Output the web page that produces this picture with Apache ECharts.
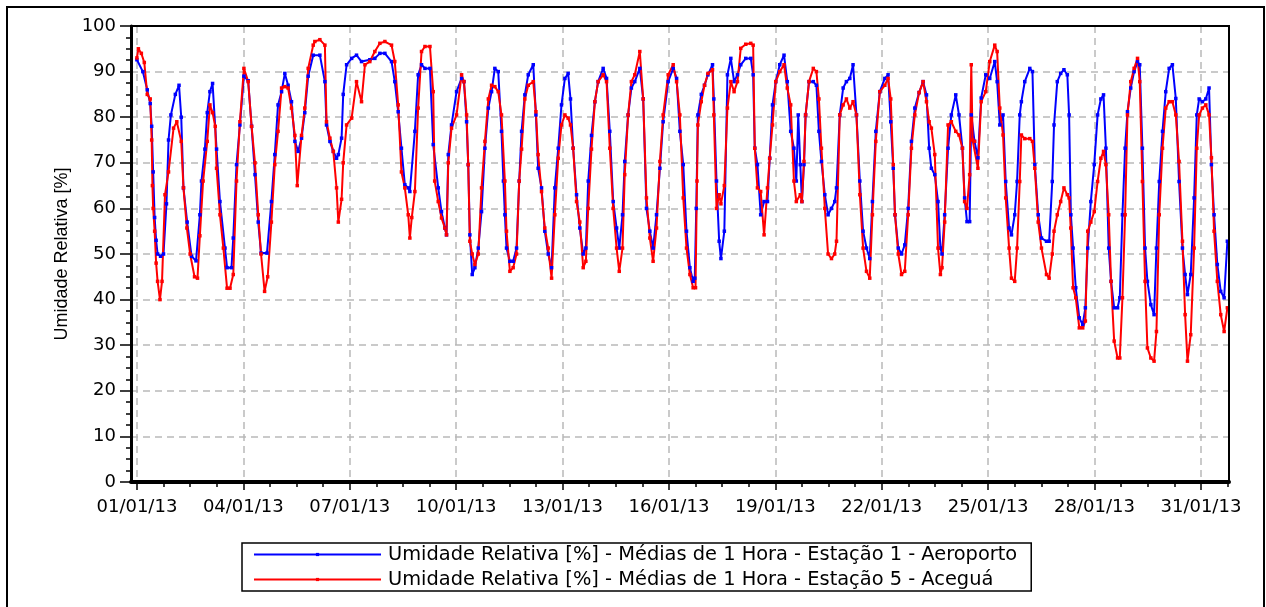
<!DOCTYPE html>
<html>
<head>
<meta charset="utf-8">
<script src="https://cdn.jsdelivr.net/npm/echarts@6/dist/echarts.min.js"></script>
<style>
html,body{margin:0;padding:0;background:#fff;overflow:hidden;width:1266px;height:607px;}
#frame{position:absolute;left:6px;top:6px;width:1255px;height:700px;border:2px solid #000;}
#chart{position:absolute;left:0;top:0;width:1266px;height:607px;}
</style>
</head>
<body>
<div id="frame"></div>
<div id="chart"></div>
<script>
// x values: hours since 01/01/13 00:00
const tickLabels = ['01/01/13','04/01/13','07/01/13','10/01/13','13/01/13','16/01/13','19/01/13','22/01/13','25/01/13','28/01/13','31/01/13'];
const seriesNames = [
  'Umidade Relativa [%] - Médias de 1 Hora - Estação 1 - Aeroporto',
  'Umidade Relativa [%] - Médias de 1 Hora - Estação 5 - Aceguá'
];
const station1 = [[0,92.6],[4,90],[7,86],[9,83],[10,78],[11,68],[12,58],[13,53],[14,50],[16,49.5],[18,50],[20,61],[21.4,75],[23,80.5],[26,85],[28.5,87],[30,80],[31.5,64.5],[34,57],[37,49.5],[40,48.5],[42.6,58.6],[43.7,66],[46,73],[47.6,81],[49.4,85.6],[51.2,87.4],[53.9,73],[56.2,61.5],[59.6,51.3],[61,47],[64,47],[65.2,53.5],[67.4,69.6],[69.7,78.3],[72.4,89],[75.3,88],[77.6,78],[79.9,67.4],[82.1,57],[84,50.2],[88,50.2],[91,61.5],[93.3,71.8],[95.5,82.7],[97.9,85.6],[100.1,89.6],[102.3,87],[104.6,83.4],[106.9,74.7],[109.1,72.5],[111.4,75.4],[113.6,81],[115.9,89],[119.3,93.6],[123.8,93.6],[127.2,87.8],[128.3,78.3],[130.6,74.7],[132.9,72.5],[135.1,71],[136.3,71.8],[138.5,75.4],[139.6,85],[141.9,91.5],[145.3,92.9],[148.6,93.6],[152,92.2],[157.6,92.6],[161,92.9],[164.4,94],[167.8,94],[172.3,92.2],[174.5,87.8],[176.8,81.2],[179,73.2],[181.3,65.2],[183.6,64.5],[184.7,63.7],[188.1,76.9],[190.3,89.3],[192.6,91.5],[194.9,90.7],[198.3,90.7],[200.5,74],[203.9,64.5],[206.1,59.3],[208.4,55.7],[209.5,54.2],[210.7,71.8],[212.9,78.3],[216.3,85.6],[219.7,88.5],[221.3,87.8],[223.1,79],[224.2,69.6],[225.3,54.2],[226.9,45.5],[228.7,47],[231,51.3],[233.2,59.3],[235.5,73.2],[237.8,82],[240,85.6],[242.2,90.7],[244.5,90],[246.7,76.9],[248,66],[249,58.6],[250.1,51.3],[252.4,48.4],[254.6,48.4],[256.9,51.3],[258.7,66],[260.3,76.9],[262.5,84.9],[264.8,89.3],[268.2,91.5],[270,80.5],[271.5,68.8],[273.8,64.5],[276,55],[278.3,50],[280.6,47],[282.8,64.5],[285.1,73.2],[287.3,82.7],[289.6,88.5],[291.8,89.6],[293.4,84],[295.2,73.2],[297.5,63],[299.7,55.7],[302,50],[303.8,51.3],[305.4,66],[307.6,76],[309.9,83.4],[312.1,87.8],[315.5,90.7],[317.8,88.5],[320,76.9],[322.3,61.5],[324.6,55.7],[326.4,51.3],[328.6,58.6],[330.1,70.3],[332.4,80.5],[334.6,86.4],[336.9,87.8],[340.3,90.7],[342.6,84],[344.8,60],[347.1,55],[349.3,51.3],[351.6,58.6],[353.9,68.8],[356.1,79],[359.5,87.8],[362.9,90.7],[365.2,88.5],[367.4,76.9],[369.7,69.6],[371.9,55],[374.2,47],[376.4,44],[377.5,44.7],[378.5,60],[379.6,80.5],[381.9,85],[384.1,87],[386.4,89.3],[389.5,91.5],[390.4,84],[392.2,66],[394,52.8],[395.2,49],[397.5,55],[399.6,89.3],[401.9,92.9],[404.1,87.8],[406.4,89.3],[408.6,91.5],[412,92.9],[415.4,92.9],[417,89.3],[418.1,73.2],[419.9,69.6],[422.1,58.6],[424.4,61.5],[426.7,61.5],[428.2,71],[430.1,82.7],[432.3,87.8],[435,91.5],[437.9,93.6],[440.1,87.8],[442.4,76.9],[444.6,73.2],[446.2,66],[447.5,80.5],[448.9,69.6],[450,61.5],[451.4,69.6],[452.5,80.5],[454.8,87.8],[457.7,87.8],[459.8,87],[461.5,76.9],[463.2,70.3],[465.5,63],[467.7,58.6],[470,60],[472.2,61.5],[473.4,64.5],[475.6,80.5],[477.9,86.4],[480.1,87.8],[482.4,88.5],[484.6,91.5],[486.9,80.5],[489.2,66],[491.4,55],[493.7,51.3],[495.9,49],[497.7,61.5],[500,76.9],[502.7,85.6],[506.1,88.5],[508.3,89.3],[510.1,79],[511.8,68.8],[513,58.6],[515.2,51.3],[517.4,50],[519.6,52],[521.9,60],[524.1,74.7],[526.4,82],[529.3,85.4],[532,87.8],[534.3,84.9],[536.1,73.2],[537.6,68.8],[539.9,67.4],[542.1,61.5],[543.7,51.3],[544.8,50],[546.6,58.6],[548.9,73.2],[551.1,80.5],[554.1,84.9],[556.3,80.5],[558.6,73.2],[560.1,62.3],[561.7,57.1],[563.5,57.1],[564.6,80.5],[566.8,74.7],[569.1,71.1],[571.3,84.2],[574.4,89.3],[577.1,88.5],[580.5,92.2],[582.1,87.8],[583.9,78.3],[586.1,80.5],[587.9,65.9],[590.2,55.7],[591.8,54.2],[594,58.6],[595.6,65.9],[597.4,80.5],[598.5,83.4],[600.8,87.8],[604.2,90.7],[606,90],[607.6,69.6],[609.9,58.6],[612.1,53.5],[615.5,52.8],[617.3,52.8],[619.4,65.9],[620.6,78.3],[622.8,87.8],[625.1,89.6],[627.3,90.4],[629.6,89.3],[630.8,80.5],[632,58.6],[633.5,51.3],[635.3,42.6],[637.7,36],[640,34.5],[641.8,38.2],[643.4,51.3],[645.5,61.5],[647.8,69.6],[650.1,80.5],[652.3,84],[654.1,84.9],[655.7,73.2],[657.6,51.3],[659.2,44],[661.3,38.2],[663.6,38.2],[665.1,40.4],[666.9,58.6],[668.7,73.2],[670.3,81.2],[672.5,86.4],[674.8,90],[677.1,92.2],[678.6,91.5],[680.4,73.2],[682.2,51.3],[683.8,44],[686.1,38.9],[688.3,36.7],[689.9,51.3],[691.8,65.9],[694,76.9],[696.2,85.6],[698.5,90.7],[700.7,91.5],[703,84.1],[705.2,65.9],[707.5,51.3],[709.3,45.5],[710.9,41.1],[713.1,45.5],[715.4,62.3],[717.2,80.5],[718.8,84],[721,83.4],[723.3,84],[725.5,86.4],[727.1,69.6],[728.9,58.6],[731.1,47.7],[733.4,41.8],[735.7,40.4],[737.9,52.8]];
const station5 = [[0,93],[1,95],[3,94],[5,92],[7,85],[9,84],[10,75],[10.5,65],[11,60],[12,55],[13,48],[14,44],[15.6,40],[17,44],[19,63],[21.4,68],[24.8,77.6],[27,79],[30,74.7],[31.5,64.5],[33.8,55.7],[36,50],[39,45],[41,44.7],[42.6,54],[44.8,66],[47.6,74.7],[49.4,82.7],[51.2,81],[53,78],[53.9,68.8],[56.2,58.6],[58.5,51.3],[61,42.5],[63,42.5],[65.2,45.5],[67.4,66],[69.7,79],[72.4,90.7],[75.3,87.8],[77.6,78],[79.9,70],[82.1,58.6],[84,50],[86.4,41.8],[88.5,45],[91,57],[93.3,69.6],[95.5,76.9],[97.9,86.4],[100.1,86.7],[102.3,86.4],[104.6,82],[106.9,76],[108.5,65],[111.4,76],[113.6,82],[115.9,90.7],[119.3,95.8],[120.4,96.6],[123.8,97],[127.2,95.8],[128.3,79],[130.6,75.4],[132.9,72.5],[135.1,64.5],[136.3,57],[138.5,62],[139.6,70],[141.9,78.3],[145.3,79.8],[148.6,87.8],[152,83.4],[154.3,91.5],[157.6,92.2],[161,94.4],[164.4,96.2],[167.8,96.6],[172.3,95.8],[174.5,92.2],[176.8,82.7],[179,68],[181.3,64.5],[183.6,58.6],[184.7,53.5],[186,58],[188.1,63.7],[190.3,82],[192.6,94.4],[194.9,95.5],[198.3,95.5],[200.5,85.6],[201.5,66],[203.9,61.5],[206.1,57.9],[208.4,55.7],[209.5,54.2],[210.7,70],[212.9,77.6],[216.3,80.5],[219.7,89.3],[221.3,87.8],[223.1,80.5],[224.2,69.6],[225.3,52.8],[226.9,50],[228.7,47.7],[231,50],[233.2,64.5],[235.5,74.7],[237.8,84],[240,87],[242.2,86.7],[244.5,85.6],[246.7,80.5],[249,66],[250.1,55],[252.4,46.2],[254.6,47],[256.9,50],[258.7,66],[260.3,73],[262.5,84],[264.8,87],[268.2,87.8],[270,81.2],[271.5,71.8],[273.8,63.7],[276,55.7],[278.3,51.3],[280.6,44.7],[282.8,58.6],[285.1,71],[287.3,78.3],[289.6,80.5],[291.8,79.8],[293.4,78.3],[295.2,73.2],[297.5,61.5],[299.7,57],[302,47],[303.8,48.4],[305.4,60],[307.6,73],[309.9,83.4],[312.1,87.8],[315.5,89.3],[317.8,87.8],[320,73.2],[322.3,60],[324.6,51.3],[326.4,46.2],[328.6,51.3],[330.1,67.4],[332.4,80.5],[334.6,87.8],[336.9,89.3],[340.3,94.4],[342.6,84],[344.8,62.3],[347.1,53.5],[349.3,48.4],[351.6,55.7],[353.9,70.3],[356.1,80.5],[359.5,89.3],[362.9,91.5],[365.2,87.8],[367.4,80.5],[369.7,62.3],[371.9,51.3],[374.2,45.5],[376.4,42.6],[378,42.6],[379,66],[379.6,78.3],[381.9,83.4],[384.1,87],[386.4,89.6],[389.5,90.4],[390.4,80.5],[392.2,60],[394,63],[395.2,61],[397.5,65],[399.6,82],[401.9,87.8],[404.1,85.6],[406.4,87.8],[408.6,95.1],[412,96],[415.4,96.2],[417,95.8],[418.1,73.2],[419.9,64.5],[422.1,63.7],[424.4,54.2],[426.7,64.5],[428.2,71],[430.1,78.3],[432.3,87.8],[435,90],[437.9,91.5],[440.1,86.4],[442.4,82.7],[444.6,66],[446.2,61.5],[448.9,63],[450,61.5],[451.4,70.3],[452.5,80.5],[454.8,87.8],[457.7,90.7],[459.8,90],[461.5,84],[463.2,73.2],[465.5,60],[467.7,50],[470,49],[472.2,50],[473.4,52.8],[475.6,80.5],[477.9,82.7],[480.1,84],[482.4,82],[484.6,83.4],[486.9,80.5],[489.2,63],[491.4,51.3],[493.7,46.2],[495.9,44.7],[497.7,58.6],[500,74.7],[502.7,85.6],[506.1,87],[508.3,88.5],[510.1,84],[511.8,69.6],[513,58.6],[515.2,50],[517.4,45.5],[519.6,46.2],[521.9,58.6],[524.1,73.2],[526.4,80.5],[529.3,85.4],[532,87.8],[534.3,83.4],[536.1,79],[537.6,77.6],[539.9,71.8],[542.1,51.3],[543.7,45.5],[544.8,47],[546.6,57],[548.9,78.3],[551.1,79],[554.1,76.9],[556.3,76.1],[558.6,73.2],[560.1,61.5],[561.7,60],[563.5,67.4],[564.6,91.5],[565.5,75],[566.8,74.7],[569.1,68.8],[571.3,83.4],[574.4,85.6],[577.1,92.2],[580.5,95.8],[582.1,94.4],[583.9,82],[586.1,76.1],[587.9,62.3],[590.2,51.3],[591.8,44.7],[594,44],[595.6,51.3],[597.4,65.9],[598.5,76.1],[600.8,75.3],[604.2,75.3],[606,74.7],[607.6,68.8],[609.9,57],[612.1,51.3],[615.5,45.5],[617.3,44.7],[619.4,50],[620.6,55],[622.8,58.6],[625.1,61.5],[627.3,64.5],[629.6,63],[630.8,62.3],[631.9,55.7],[633.5,42.6],[635.3,40.4],[637.7,33.8],[640,33.8],[641.8,35.3],[643.4,55],[645.5,57],[647.8,59.3],[650.1,65.9],[652.3,71],[654.1,72.5],[655.7,69.6],[657.6,58.6],[659.2,44],[661.3,30.9],[663.6,27.2],[665.1,27.2],[666.9,40.4],[668.7,58.6],[670.3,80.5],[672.5,87.8],[674.8,90.7],[677.1,92.9],[678.6,87.8],[680.4,65.9],[682.2,44],[683.8,29.4],[686.1,27.2],[688.3,26.5],[689.9,33],[691.8,58.6],[694,73.2],[696.2,82],[698.5,83.4],[700.7,83.4],[703,80.5],[705.2,70.3],[707.5,52.8],[709.3,36.7],[710.9,26.5],[713.1,32.3],[715.4,51.3],[717.2,73.2],[718.8,80.5],[721,82],[723.3,82.7],[725.5,80.5],[727.1,71.1],[728.9,55],[731.1,44],[733.4,36.7],[735.7,33],[737.9,38.2]];

const HOURS_PER_LABEL = 72;
const majorTicks = tickLabels.map((_, i) => i * HOURS_PER_LABEL);
const minorTicks = [];
for (let h = 18; h < 739; h += 18) { if (h % HOURS_PER_LABEL !== 0) minorTicks.push(h); }

const chart = echarts.init(document.getElementById('chart'), null, {renderer: 'canvas'});
const baseFont = 'DejaVu Sans';
const dashColor = '#b9b9b9';

chart.setOption({
  animation: false,
  backgroundColor: 'transparent',
  grid: {
    left: 131, right: 37, top: 26, bottom: 125,
    show: true, borderColor: '#000', borderWidth: 2, backgroundColor: 'transparent',
    outerBoundsMode: 'none'
  },
  legend: {
    orient: 'vertical',
    left: 242, top: 543,
    padding: [2, 14, 2, 11],
    itemWidth: 127, itemHeight: 4, itemGap: 6,
    borderColor: '#000', borderWidth: 1.5,
    textStyle: {fontFamily: baseFont, fontSize: 19.4, color: '#000', padding: [0, 0, 0, 2]},
    data: seriesNames
  },
  xAxis: [{
    type: 'value', min: -4, max: 739,
    axisLine: {show: true, onZero: false, lineStyle: {color: '#000', width: 4}},
    axisTick: {show: true, customValues: majorTicks, length: 8, lineStyle: {color: '#000', width: 1.5}},
    axisLabel: {
      show: true, customValues: majorTicks, margin: 16,
      fontFamily: baseFont, fontSize: 18, color: '#000',
      formatter: v => tickLabels[Math.round(v / HOURS_PER_LABEL)] || ''
    },
    splitLine: {show: true, lineStyle: {color: dashColor, width: 1.5, type: [7, 5]}},
    minorTick: {show: false}
  }, {
    type: 'value', min: -4, max: 739, position: 'bottom', offset: 0,
    axisLine: {show: false},
    axisTick: {show: true, customValues: minorTicks, length: 5, lineStyle: {color: '#000', width: 1.5}},
    axisLabel: {show: false},
    splitLine: {show: false}
  }, {
    type: 'value', min: -4, max: 739, position: 'top', offset: 0, z: 10,
    axisLine: {show: true, onZero: false, lineStyle: {color: '#000', width: 2}},
    axisTick: {show: false}, axisLabel: {show: false}, splitLine: {show: false}
  }],
  yAxis: [{
    type: 'value', min: 0, max: 100, interval: 10,
    name: 'Umidade Relativa [%]',
    nameLocation: 'middle', nameGap: 60,
    nameTextStyle: {fontFamily: 'Liberation Sans', fontSize: 18, color: '#000'},
    axisLine: {show: true, onZero: false, lineStyle: {color: '#000', width: 3}},
    axisTick: {show: true, length: 11, lineStyle: {color: '#000', width: 1.5}},
    minorTick: {show: true, splitNumber: 4, length: 5, lineStyle: {color: '#000', width: 1.5}},
    axisLabel: {margin: 15, fontFamily: baseFont, fontSize: 18, color: '#000'},
    splitLine: {show: true, lineStyle: {color: dashColor, width: 1.5, type: [7, 5]}}
  }, {
    type: 'value', min: 0, max: 100, position: 'right', offset: 0, z: 10,
    axisLine: {show: true, onZero: false, lineStyle: {color: '#000', width: 2}},
    axisTick: {show: false}, axisLabel: {show: false}, splitLine: {show: false}
  }],
  series: [{
    name: seriesNames[0], type: 'line', data: station1,
    xAxisIndex: 0, yAxisIndex: 0,
    symbol: 'rect', symbolSize: 3.5, showSymbol: true,
    lineStyle: {color: '#0000ff', width: 2},
    itemStyle: {color: '#0000ff'}
  }, {
    name: seriesNames[1], type: 'line', data: station5,
    xAxisIndex: 0, yAxisIndex: 0,
    symbol: 'rect', symbolSize: 3.5, showSymbol: true,
    lineStyle: {color: '#ff0000', width: 2},
    itemStyle: {color: '#ff0000'}
  }]
});
</script>
</body>
</html>
